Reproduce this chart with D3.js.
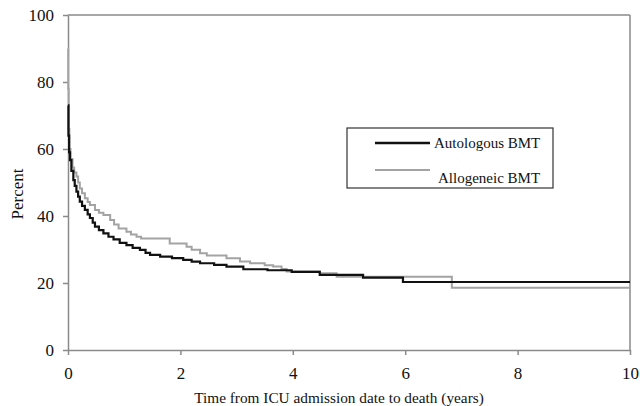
<!DOCTYPE html>
<html>
<head>
<meta charset="utf-8">
<script src="https://cdn.jsdelivr.net/npm/d3@7"></script>
<style>
  body { margin: 0; background: #fff; }
  svg text { font-family: "Liberation Serif", "DejaVu Serif", serif; fill: #111; }
</style>
</head>
<body>
<svg id="chart" width="640" height="406"></svg>
<script>
// survival steps: [years, percent]
var autologous = [
  [0, 73], [0.008, 64], [0.02, 59], [0.036, 56.7], [0.06, 53.5], [0.095, 50.7],
  [0.12, 49], [0.15, 47.3], [0.18, 45.8], [0.21, 44.3], [0.25, 43], [0.3, 41.8],
  [0.35, 40.5], [0.39, 39.4], [0.44, 38], [0.48, 36.8], [0.55, 35.8], [0.63, 34.8],
  [0.72, 33.8], [0.81, 33], [0.92, 32], [1.04, 31.3], [1.15, 30.5], [1.28, 29.9],
  [1.38, 29], [1.46, 28.4], [1.64, 27.9], [1.85, 27.4], [2.05, 26.9], [2.2, 26.4],
  [2.35, 25.9], [2.6, 25.4], [2.82, 24.9], [3.12, 24.1], [3.55, 23.8], [3.98, 23.3],
  [4.48, 22.4], [5.25, 21.6], [5.96, 20.3], [10, 20.3]
];
var allogeneic = [
  [0, 90], [0.004, 78], [0.012, 66], [0.025, 60], [0.045, 57], [0.08, 54.5],
  [0.11, 53], [0.15, 51.8], [0.18, 50], [0.21, 48.2], [0.25, 46.8], [0.3, 45.3],
  [0.35, 44.2], [0.39, 43.3], [0.48, 41.8], [0.55, 41], [0.63, 40.3], [0.75, 38.8],
  [0.82, 37.5], [0.9, 36.3], [1.04, 35.3], [1.12, 34.5], [1.22, 33.8], [1.3, 33.3],
  [1.81, 31.8], [2.11, 30.8], [2.2, 29.9], [2.35, 28.9], [2.47, 28.2], [2.82, 27.4],
  [3.06, 26.4], [3.24, 25.9], [3.5, 25.3], [3.65, 24.9], [3.8, 24.2], [3.89, 23.4],
  [4.48, 22.9], [4.78, 21.9], [6.83, 18.6], [10, 18.6]
];
var xTicks = [0, 2, 4, 6, 8, 10];
var yTicks = [0, 20, 40, 60, 80, 100];
var seriesNames = ["Autologous BMT", "Allogeneic BMT"];

var svg = d3.select('#chart');
var plotLeft = 68, plotRight = 630, plotTop = 15, plotBottom = 350;
var axisColor = '#8a8a8a';

var x = d3.scaleLinear().domain([0, 10]).range([plotLeft, plotRight]);
var y = d3.scaleLinear().domain([0, 100]).range([plotBottom, plotTop]);

// frame top and right
svg.append('line').attr('x1', plotLeft).attr('x2', plotRight).attr('y1', plotTop).attr('y2', plotTop)
  .attr('stroke', axisColor).attr('stroke-width', 1.5);
svg.append('line').attr('x1', plotRight).attr('x2', plotRight).attr('y1', plotTop).attr('y2', plotBottom)
  .attr('stroke', axisColor).attr('stroke-width', 1.5);

var xAxis = svg.append('g')
  .attr('transform', 'translate(0,' + plotBottom + ')')
  .call(d3.axisBottom(x).tickValues(xTicks).tickSize(5).tickSizeOuter(0).tickPadding(12));
var yAxis = svg.append('g')
  .attr('transform', 'translate(' + plotLeft + ',0)')
  .call(d3.axisLeft(y).tickValues(yTicks).tickSize(5).tickSizeOuter(0).tickPadding(9));

[xAxis, yAxis].forEach(function(a) {
  a.select('.domain').attr('stroke', axisColor).attr('stroke-width', 1.5);
  a.selectAll('.tick line').attr('stroke', axisColor).attr('stroke-width', 1.5);
  a.selectAll('.tick text')
    .style('font-family', '"Liberation Serif", serif')
    .style('font-size', '17px').attr('fill', '#111');
});

var line = d3.line()
  .x(function(d) { return x(d[0]); })
  .y(function(d) { return y(d[1]); })
  .curve(d3.curveStepAfter);

svg.append('path').datum(allogeneic)
  .attr('d', line).attr('fill', 'none')
  .attr('stroke', '#a3a3a3').attr('stroke-width', 2);
svg.append('path').datum(autologous)
  .attr('d', line).attr('fill', 'none')
  .attr('stroke', '#111').attr('stroke-width', 2.2);

// axis titles
svg.append('text')
  .attr('x', 339).attr('y', 403)
  .attr('text-anchor', 'middle')
  .style('font-size', '15.3px')
  .text('Time from ICU admission date to death (years)');
svg.append('text')
  .attr('transform', 'translate(23,194) rotate(-90)')
  .attr('text-anchor', 'middle')
  .style('font-size', '17px')
  .text('Percent');

// legend
var legend = svg.append('g');
legend.append('rect')
  .attr('x', 347).attr('y', 128).attr('width', 206).attr('height', 60)
  .attr('fill', '#fff').attr('stroke', '#333').attr('stroke-width', 1.2);
legend.append('line').attr('x1', 375).attr('x2', 430).attr('y1', 143).attr('y2', 143)
  .attr('stroke', '#111').attr('stroke-width', 2.5);
legend.append('line').attr('x1', 375).attr('x2', 430).attr('y1', 170).attr('y2', 170)
  .attr('stroke', '#a3a3a3').attr('stroke-width', 2);
legend.append('text').attr('x', 434).attr('y', 148)
  .style('font-size', '15px').text(seriesNames[0]);
legend.append('text').attr('x', 438).attr('y', 183)
  .style('font-size', '15px').text(seriesNames[1]);
</script>
</body>
</html>
